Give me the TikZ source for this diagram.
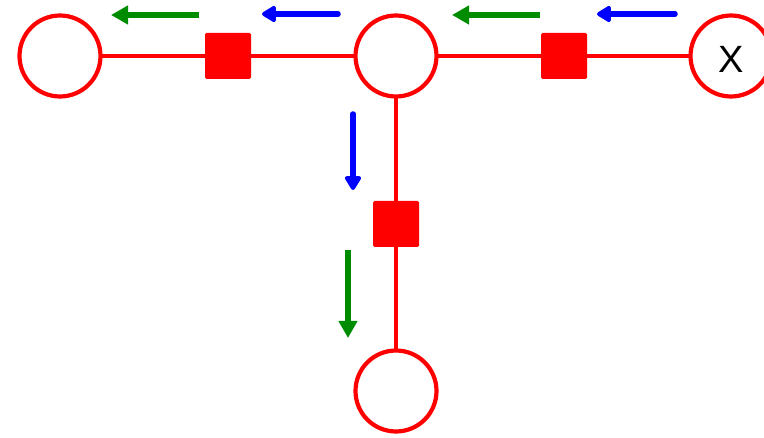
\documentclass[tikz,border=0pt]{standalone}
\usepackage{fontspec}
\setmainfont{Liberation Sans}
\usetikzlibrary{arrows.meta}
\begin{document}
\begin{tikzpicture}[x=1pt,y=-1pt,
  cnode/.style={circle,draw=red,line width=4.2pt,fill=white,minimum size=81pt,inner sep=0pt},
  snode/.style={rectangle,rounded corners=1.5pt,fill=red,minimum size=46pt,inner sep=0pt},
  link/.style={red,line width=3.6pt},
  lbl/.style={inner sep=0pt,font=\fontsize{38}{38}\selectfont},
  garrow/.style={draw={rgb,255:red,0;green,140;blue,0},line width=5.5pt,-{Triangle[length=17pt,width=18pt]}},
  barrow/.style={draw=blue,line width=5.5pt,line cap=round,-{Triangle[length=16pt,width=18pt,round]}}
]
\useasboundingbox (0,0) rectangle (764,438);
\coordinate (c1) at (60,56);
\coordinate (c2) at (396,56);
\coordinate (c3) at (731,56);
\coordinate (c4) at (396,391);
\draw[link] (c1) -- (c3);
\draw[link] (c2) -- (c4);
\node[cnode] (n1) at (c1) {};
\node[cnode] (n2) at (c2) {};
\node[cnode] (n3) at (c3) {};
\node[lbl] (x) at ([yshift=-3pt]n3.center) {X};
\node[cnode] (n4) at (c4) {};
\node[snode] (s1) at (228,56) {};
\node[snode] (s2) at (564,56) {};
\node[snode] (s3) at (396,224) {};
\coordinate (ga1) at (199,15); \coordinate (ga2) at (111,15);
\coordinate (ba1) at (338,14); \coordinate (ba2) at (262,14);
\coordinate (ga3) at (540,15); \coordinate (ga4) at (452,15);
\coordinate (ba3) at (675,14); \coordinate (ba4) at (597,14);
\coordinate (bv1) at (353,114); \coordinate (bv2) at (353,190);
\coordinate (gv1) at (348,250); \coordinate (gv2) at (348,338);
\draw[garrow] (ga1) -- (ga2);
\draw[barrow] (ba1) -- (ba2);
\draw[garrow] (ga3) -- (ga4);
\draw[barrow] (ba3) -- (ba4);
\draw[barrow] (bv1) -- (bv2);
\draw[garrow] (gv1) -- (gv2);
\end{tikzpicture}
\end{document}
